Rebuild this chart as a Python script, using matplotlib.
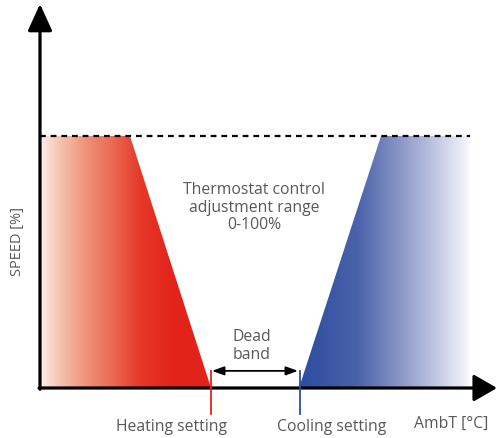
import numpy as np
import matplotlib
matplotlib.use("Agg")
import matplotlib.pyplot as plt
from matplotlib.colors import LinearSegmentedColormap
from matplotlib.patches import Polygon

# ---- data (x: ambient temperature axis units, y: speed %) ----
heat_x = [0, 90, 171]          # heating ramp: full speed, ramp start, heating setting
heat_y = [100, 100, 0]
cool_x = [259, 341, 430]       # cooling ramp: cooling setting, ramp end, right end
cool_y = [0, 100, 100]
heating_setting = 171
cooling_setting = 259
max_speed = 100
x_end = 430
deadband_y = 6.8

red_stops = [(0.0, "#fdeee8"), (0.12, "#f6c1ad"), (0.29, "#ef8c72"), (0.44, "#ea6550"),
             (0.58, "#e63a2a"), (0.78, "#e2231a"), (1.0, "#e2231a")]
blue_stops = [(0.0, "#2c4c9e"), (0.34, "#4a62aa"), (0.59, "#8a96c6"), (0.77, "#b9bfe0"),
              (0.96, "#eceef8"), (1.0, "#fafafd")]

TEXT = "#58595b"
FONT = ["Open Sans", "DejaVu Sans"]
FS = 11.3

fig = plt.figure(figsize=(4.97, 4.39), dpi=100)
ax = fig.add_axes([0, 0, 1, 1])
ax.set_xlim(-40, 457)
ax.set_ylim(-19.84, 154.37)
ax.axis("off")

def grad_fill(xs, ys, stops, x0, x1):
    cmap = LinearSegmentedColormap.from_list("g", stops)
    img = np.linspace(0, 1, 400).reshape(1, -1)
    im = ax.imshow(img, cmap=cmap, extent=[x0, x1, 0, max_speed],
                   aspect="auto", origin="lower", zorder=1, interpolation="bilinear")
    pts = list(zip(xs, ys))
    pts.append((xs[0], 0) if ys[0] != 0 else (xs[-1], 0))
    poly = Polygon(pts, closed=True, facecolor="none", edgecolor="none", transform=ax.transData)
    ax.add_patch(poly)
    im.set_clip_path(poly)

grad_fill(heat_x, heat_y, red_stops, heat_x[0], heat_x[-1])
grad_fill(cool_x, cool_y, blue_stops, cool_x[0], cool_x[-1])

# dashed max line
ax.plot([0, x_end], [max_speed, max_speed], color="black", lw=1.6,
        ls=(0, (2.6, 2.2)), zorder=3)

# axes arrows
ax.annotate("", xy=(0, 152.4), xytext=(0, -0.5),
            arrowprops=dict(arrowstyle="-|>,head_length=1.1,head_width=0.5",
                            lw=2.3, color="black", mutation_scale=15, shrinkA=0, shrinkB=0),
            zorder=5)
ax.annotate("", xy=(457, 0), xytext=(-1, 0),
            arrowprops=dict(arrowstyle="-|>,head_length=0.95,head_width=0.55",
                            lw=2.3, color="black", mutation_scale=15, shrinkA=0, shrinkB=0),
            zorder=5)

# setting markers
ax.plot([heating_setting, heating_setting], [deadband_y, -10.3], color="#e2231a", lw=1.3, zorder=6)
ax.plot([cooling_setting + 0.5, cooling_setting + 0.5], [deadband_y, -10.3], color="#2b4c9f", lw=1.3, zorder=6)

# dead band arrow
ax.annotate("", xy=(heating_setting + 1, deadband_y), xytext=(cooling_setting - 1, deadband_y),
            arrowprops=dict(arrowstyle="<|-|>,head_length=0.55,head_width=0.2",
                            lw=1.3, color="black", mutation_scale=13, shrinkA=0, shrinkB=0),
            zorder=6)

# texts
ax.text(214, 72.0, "Thermostat control\nadjustment range\n0-100%", ha="center", va="center",
        fontsize=FS, color=TEXT, family=FONT, linespacing=1.15)
ax.text(212, 17.0, "Dead\nband", ha="center", va="center",
        fontsize=FS, color=TEXT, family=FONT, linespacing=1.15)
ax.text(-22, 58.5, "SPEED [%]", ha="center", va="center", rotation=90,
        fontsize=10.5, color=TEXT, family=FONT)
ax.text(131.5, -15.2, "Heating setting", ha="center", va="center",
        fontsize=FS, color=TEXT, family=FONT)
ax.text(292, -15.2, "Cooling setting", ha="center", va="center",
        fontsize=FS, color=TEXT, family=FONT)
ax.text(411.5, -14.0, "AmbT [°C]", ha="center", va="center",
        fontsize=FS, color=TEXT, family=FONT)

fig.savefig("out.png", dpi=100)
